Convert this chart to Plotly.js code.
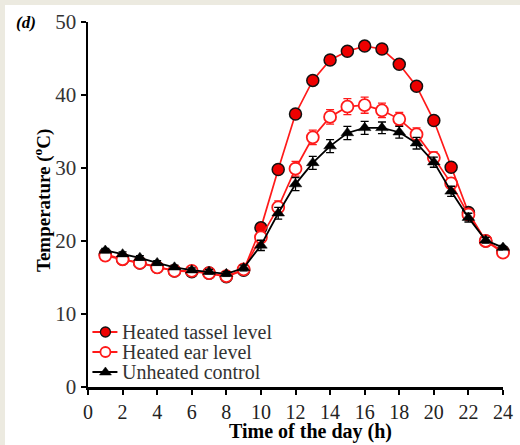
<!DOCTYPE html>
<html>
<head>
<meta charset="utf-8">
<script src="https://cdn.plot.ly/plotly-3.0.1.min.js"></script>
<style>
  html, body { margin: 0; padding: 0; background: #ECEAE0; width: 520px; height: 445px; overflow: hidden; }
  #chart { position: absolute; left: 5px; top: 5px; width: 515px; height: 440px; background: #fff; }
</style>
</head>
<body>
<div id="chart"></div>
<script>
const hours = [1,2,3,4,5,6,7,8,9,10,11,12,13,14,15,16,17,18,19,20,21,22,23,24];
const tassel = [18.2,17.5,17.0,16.4,15.9,15.8,15.6,15.1,16.0,21.8,29.8,37.4,42.0,44.8,46.0,46.7,46.3,44.2,41.2,36.5,30.1,23.9,20.0,18.6];
const tasselErr = [0.3,0.3,0.3,0.3,0.3,0.3,0.3,0.3,0.4,0.6,0.6,0.6,0.5,0.5,0.5,0.5,0.5,0.5,0.5,0.5,0.5,0.5,0.4,0.3];
const ear = [18.0,17.5,17.0,16.4,15.9,15.9,15.6,15.2,16.1,20.5,24.6,29.9,34.2,37.0,38.4,38.6,37.9,36.7,34.6,31.4,27.9,23.6,20.0,18.4];
const earErr = [0.3,0.3,0.3,0.3,0.3,0.3,0.3,0.3,0.4,0.7,0.9,1.0,1.0,1.0,1.1,1.1,1.0,0.9,0.9,0.8,0.7,0.6,0.4,0.3];
const control = [18.7,18.2,17.7,17.0,16.4,16.0,15.8,15.5,16.3,19.4,23.8,27.8,30.7,33.0,34.8,35.5,35.5,34.9,33.4,30.8,26.8,23.2,20.1,19.1];
const controlErr = [0.3,0.3,0.3,0.3,0.3,0.3,0.3,0.3,0.4,0.7,0.8,0.9,0.9,0.9,0.9,0.9,0.8,0.8,0.8,0.7,0.7,0.6,0.4,0.3];
const names = ["Heated tassel level","Heated ear level","Unheated control"];
const xTicks = [0,2,4,6,8,10,12,14,16,18,20,22,24];
const yTicks = [0,10,20,30,40,50];
const xTitle = "Time of the day (h)";
const yTitle = "Temperature (<sup>o</sup>C)";
const panelLabel = "(d)";

const serif = "Liberation Serif";
const RED = "#ff1a1a";

const traces = [
  {
    x: hours, y: tassel, name: names[0], type: "scatter", mode: "lines+markers",
    line: {color: RED, width: 1.7},
    marker: {symbol: "circle", size: 12, color: "#ee0000", line: {color: "#111", width: 1.5}},
    error_y: {type: "data", array: tasselErr, visible: true, color: RED, thickness: 1.3, width: 4},
    cliponaxis: false
  },
  {
    x: hours, y: ear, name: names[1], type: "scatter", mode: "lines+markers",
    line: {color: RED, width: 1.7},
    marker: {symbol: "circle", size: 12, color: "#ffffff", line: {color: RED, width: 1.8}},
    error_y: {type: "data", array: earErr, visible: true, color: RED, thickness: 1.3, width: 4},
    cliponaxis: false
  },
  {
    x: hours, y: control, name: names[2], type: "scatter", mode: "lines+markers",
    line: {color: "#000", width: 1.8},
    marker: {symbol: "triangle-up", size: 11, color: "#000", line: {color: "#000", width: 0.5}},
    error_y: {type: "data", array: controlErr, visible: true, color: "#000", thickness: 1.3, width: 4},
    cliponaxis: false
  }
];

// Manual legend (rows in paper coordinates)
const legRows = [0.1507, 0.0959, 0.0411];
const legX = 0.042;   // marker centre
const legLineColors = [RED, RED, "#000"];
const shapes = [];
const annotations = [];
legRows.forEach((yy, i) => {
  shapes.push({type: "line", xref: "paper", yref: "paper", xsizemode: "pixel", ysizemode: "pixel",
    xanchor: legX, yanchor: yy, x0: -13, x1: 12, y0: 0, y1: 0,
    line: {color: legLineColors[i], width: 2}});
  if (i === 0) {
    shapes.push({type: "circle", xref: "paper", yref: "paper", xsizemode: "pixel", ysizemode: "pixel",
      xanchor: legX, yanchor: yy, x0: -5, x1: 5, y0: -5, y1: 5,
      fillcolor: "#ee0000", line: {color: "#111", width: 1.3}});
  } else if (i === 1) {
    shapes.push({type: "circle", xref: "paper", yref: "paper", xsizemode: "pixel", ysizemode: "pixel",
      xanchor: legX, yanchor: yy, x0: -5, x1: 5, y0: -5, y1: 5,
      fillcolor: "#fff", line: {color: RED, width: 1.8}});
  } else {
    shapes.push({type: "path", xref: "paper", yref: "paper", xsizemode: "pixel", ysizemode: "pixel",
      xanchor: legX, yanchor: yy, path: "M-6,-3 L6,-3 L0,5 Z",
      fillcolor: "#000", line: {color: "#000", width: 0.5}});
  }
  annotations.push({text: names[i], xref: "paper", yref: "paper", x: legX + 0.035, y: yy,
    xanchor: "left", yanchor: "middle", showarrow: false,
    font: {family: serif, size: 20, color: "#333"}});
});

annotations.push({text: "<b>" + xTitle + "</b>", xref: "paper", yref: "paper", x: 0.537, y: -0.121,
  xanchor: "center", yanchor: "middle", showarrow: false, font: {family: serif, size: 20, color: "#000"}});
annotations.push({text: "<b>" + yTitle + "</b>", xref: "paper", yref: "paper", x: -0.108, y: 0.51,
  xanchor: "center", yanchor: "middle", textangle: -90, showarrow: false, font: {family: serif, size: 19, color: "#000"}});
annotations.push({text: "<b><i>" + panelLabel + "</i></b>", xref: "paper", yref: "paper", x: -0.178, y: 1.0,
  xanchor: "left", yanchor: "middle", showarrow: false, font: {family: serif, size: 17, color: "#000"}});

const layout = {
  width: 515, height: 440,
  paper_bgcolor: "#ffffff", plot_bgcolor: "#ffffff",
  margin: {l: 83, r: 17, t: 17, b: 58},
  font: {family: serif, size: 18, color: "#222"},
  showlegend: false,
  xaxis: {
    range: [0, 24], tickvals: xTicks, ticktext: xTicks.map(String),
    showgrid: false, zeroline: false, showline: true, linecolor: "#000", linewidth: 2.5,
    ticks: "outside", ticklen: 5, tickwidth: 2, tickcolor: "#000",
    tickfont: {family: serif, size: 20, color: "#222"}
  },
  yaxis: {
    range: [0, 50], tickvals: yTicks, ticktext: yTicks.map(String),
    showgrid: false, zeroline: false, showline: true, linecolor: "#000", linewidth: 2.5,
    ticks: "outside", ticklen: 5, tickwidth: 2, tickcolor: "#000",
    tickfont: {family: serif, size: 21, color: "#333"}
  },
  shapes: shapes,
  annotations: annotations
};

Plotly.newPlot("chart", traces, layout, {displayModeBar: false, staticPlot: true});
</script>
</body>
</html>
